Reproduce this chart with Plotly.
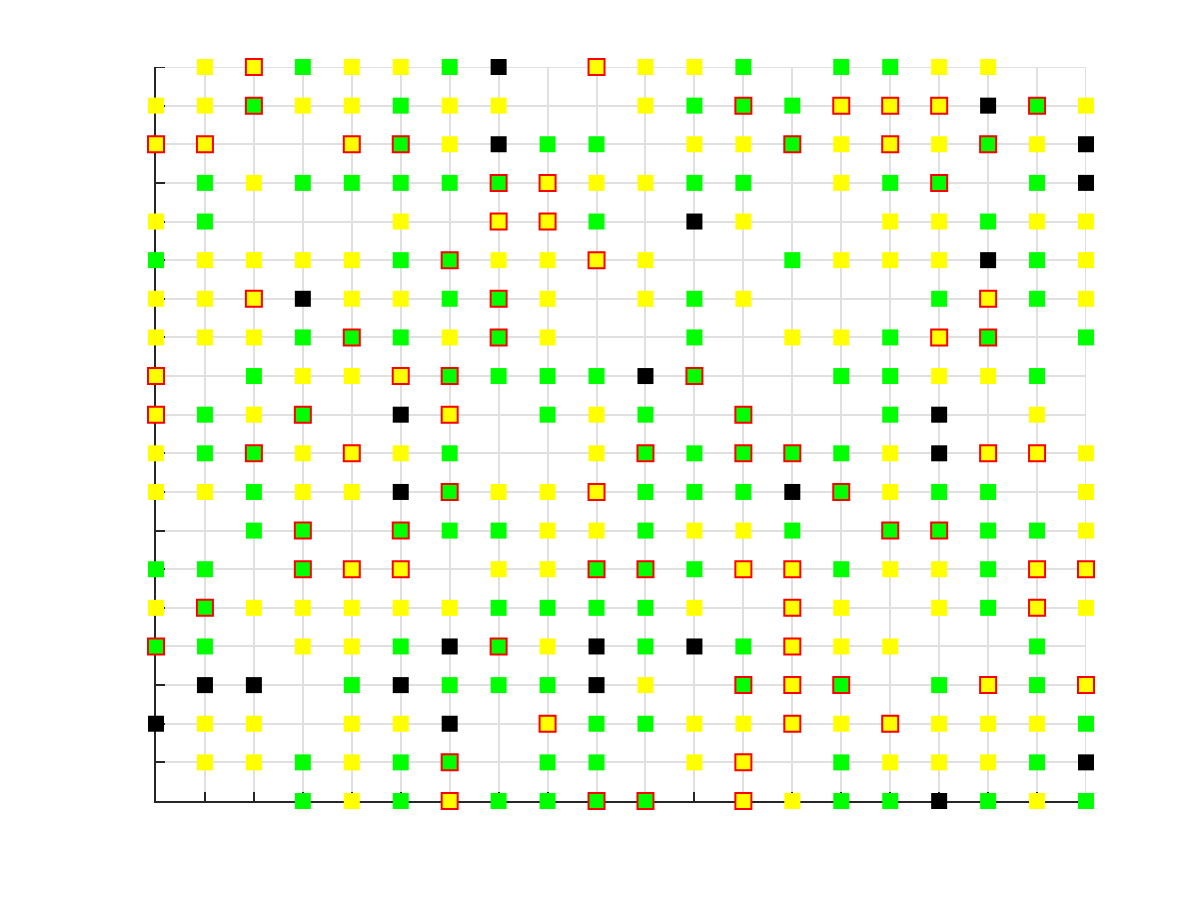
import plotly.graph_objects as go

# Grid of cells, top row first. Codes:
# Y = yellow, G = green, K = black, y = yellow with red edge, g = green with red edge, . = empty
rows = [
    ".YyGYYGK.yYYG.GGYY..",
    "YYgYYGYY..YGgGyyyKgY",
    "yy..ygYKGG.YYgYyYgYK",
    ".GYGGGGgyYYGG.YGg.GK",
    "YG...Y.yyG.KY..YYGYY",
    "GYYYYGgYYyY..GYYYKGY",
    "YYyKYYGgY.YGY...GyGY",
    "YYYGgGYgY..G.YYGyg.G",
    "y.GYYygGGGKg..GGYYG.",
    "yGYg.Ky.GYG.g..GK.Y.",
    "YGgYyYG..YgGggGYKyyY",
    "YYGYYKgYYyGGGKgYGG.Y",
    "..Gg.gGGYYGYYG.ggGGY",
    "GG.gyy.YYggGyyGYYGyy",
    "YgYYYYYGGGGY.yY.YGyY",
    "gG.YYGKgYKGKGyYY..G.",
    ".KK.GKGGGKY.gyg.GyGy",
    "KYY.YYK.yGGYYyYyYYYG",
    ".YYGYGg.GG.Yy.GYYYGK",
    "...GYGyGGgg.yYGGKGYG",
]

x_values = list(range(1, 21))
y_values = list(range(20, 0, -1))

styles = {
    "Y": dict(color="#FFFF00", line=dict(width=0)),
    "G": dict(color="#00FF00", line=dict(width=0)),
    "K": dict(color="#000000", line=dict(width=0)),
    "y": dict(color="#FFFF00", line=dict(width=2, color="#FF0000")),
    "g": dict(color="#00FF00", line=dict(width=2, color="#FF0000")),
}

fig = go.Figure()
for code, st in styles.items():
    xs, ys = [], []
    for r, row in enumerate(rows):
        for c, ch in enumerate(row):
            if ch == code:
                xs.append(x_values[c])
                ys.append(y_values[r])
    fig.add_trace(go.Scatter(
        x=xs, y=ys, mode="markers", cliponaxis=False, showlegend=False,
        marker=dict(symbol="square", size=16, **st),
    ))

grid_color = "#e0e0e0"
axis_color = "#262626"
axis_common = dict(
    showticklabels=False,
    ticks="inside", ticklen=9, tickwidth=2, tickcolor=axis_color,
    showline=True, linecolor=axis_color, linewidth=2,
    showgrid=True, gridcolor=grid_color, gridwidth=2,
    zeroline=False, layer="below traces",
    tickmode="linear", tick0=1, dtick=1, mirror=False,
)

x_min, x_max = min(x_values), max(x_values)
y_min, y_max = min(y_values), max(y_values)
fig.update_xaxes(range=[x_min, x_max], **axis_common)
fig.update_yaxes(range=[y_min, y_max], **axis_common)

# gridlines at the far edges (top and right), which Plotly omits
fig.add_shape(type="line", xref="x", yref="y", x0=x_min, x1=x_max, y0=y_max, y1=y_max,
              line=dict(color=grid_color, width=2), layer="below")
fig.add_shape(type="line", xref="x", yref="y", x0=x_max, x1=x_max, y0=y_min, y1=y_max,
              line=dict(color=grid_color, width=2), layer="below")
# inward tick at the top of the y axis
fig.add_shape(type="line", xref="x", yref="y", xsizemode="pixel", xanchor=x_min,
              x0=0, x1=9, y0=y_max, y1=y_max, line=dict(color=axis_color, width=2), layer="below")

fig.update_layout(
    width=1200, height=900,
    margin=dict(l=148, r=122, t=59, b=107),
    paper_bgcolor="white", plot_bgcolor="white",
)

fig.write_html("out.html")
